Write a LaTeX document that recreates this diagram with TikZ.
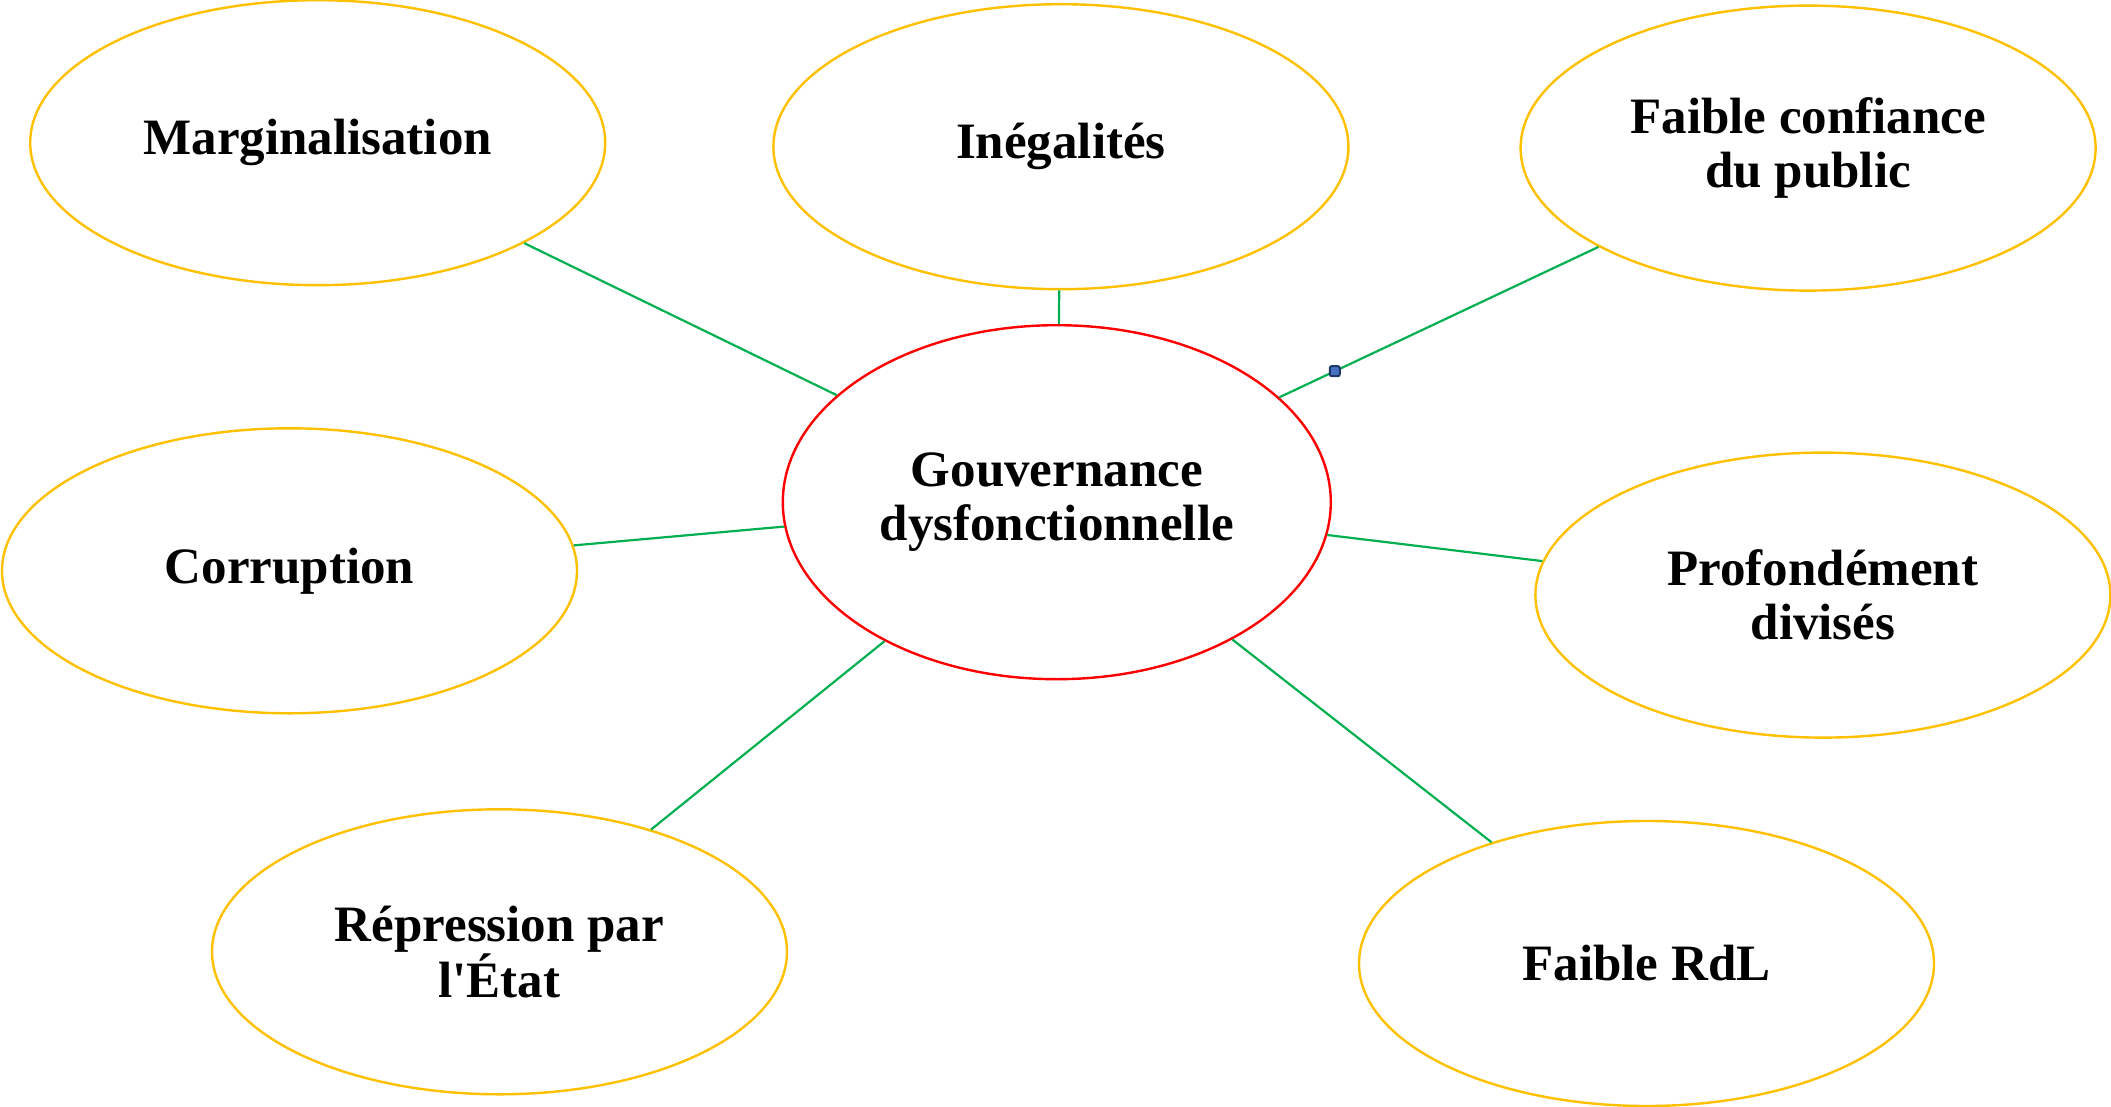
\documentclass[tikz,border=0pt]{standalone}
\usepackage{fontspec}
\setmainfont[Ligatures=TeXOff]{Liberation Serif}
\usetikzlibrary{shapes.geometric,calc}
\definecolor{ringY}{HTML}{FFC000}
\definecolor{ringR}{HTML}{FF0000}
\definecolor{linkG}{HTML}{00B050}
\definecolor{markF}{HTML}{4472C4}
\definecolor{markB}{HTML}{1F3864}
\begin{document}
\begin{tikzpicture}[x=1pt,y=-1pt,
  outer/.style={ellipse,draw=ringY,line width=2.4pt,fill=white,minimum width=575pt,minimum height=285pt,inner sep=0pt,align=center,font=\fontsize{51}{54}\selectfont\bfseries},
  hub/.style={ellipse,draw=ringR,line width=2.4pt,fill=white,minimum width=548pt,minimum height=354pt,inner sep=0pt,align=center,font=\fontsize{51}{54}\selectfont\bfseries},
  link/.style={draw=linkG,line width=2.2pt},
  marker/.style={rectangle,rounded corners=2pt,draw=markB,fill=markF,line width=2pt,minimum size=10pt,inner sep=0pt}]
\useasboundingbox (0,0) rectangle (2111,1107);
\node[outer] (marg) at (317.7,142.7) {Marginalisation};
\node[outer] (ineg) at (1060.9,146.7) {Inégalités};
\node[outer] (conf) at (1808.1,148.1) {Faible confiance\\du public};
\node[outer] (corr) at (289.5,570.8) {Corruption};
\node[hub] (gouv) at (1056.8,502.2) {Gouvernance\\dysfonctionnelle};
\node[outer] (prof) at (1822.9,595.1) {Profondément\\divisés};
\node[outer] (repr) at (499.5,951.8) {Répression par\\l'État};
\node[outer] (rdl) at (1646.5,963.5) {Faible RdL};
\draw[link] (gouv) -- (marg);
\draw[link] (gouv) -- (ineg);
\draw[link] (gouv) -- (conf);
\draw[link] (gouv) -- (corr);
\draw[link] (gouv) -- (prof);
\draw[link] (gouv) -- (repr);
\draw[link] (gouv) -- (rdl);
\node[marker] (mk) at ($(gouv.center)!0.37!(conf.center)$) {};
\end{tikzpicture}
\end{document}
